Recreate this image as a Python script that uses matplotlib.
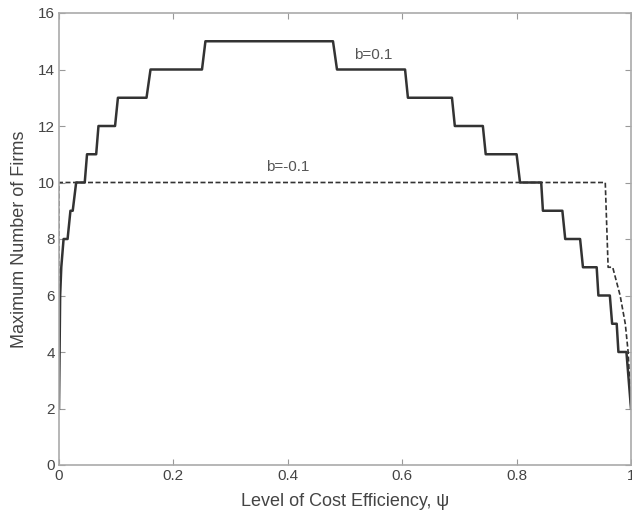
import numpy as np
import matplotlib
matplotlib.use('Agg')
import matplotlib.pyplot as plt

plt.rcParams['font.family'] = ['Liberation Sans', 'DejaVu Sans']

# b = 0.1 (solid step curve), vertices
psi_pos = [0.0, 0.002, 0.004, 0.008, 0.015, 0.020, 0.024, 0.030, 0.045, 0.049,
           0.065, 0.069, 0.098, 0.103, 0.153, 0.160, 0.250, 0.256, 0.479, 0.486,
           0.605, 0.610, 0.687, 0.692, 0.741, 0.746, 0.800, 0.806, 0.843, 0.846,
           0.880, 0.885, 0.911, 0.916, 0.940, 0.943, 0.963, 0.967, 0.975, 0.978,
           0.992, 1.0]
n_pos = [2, 6, 7, 8, 8, 9, 9, 10, 10, 11,
         11, 12, 12, 13, 13, 14, 14, 15, 15, 14,
         14, 13, 13, 12, 12, 11, 11, 10, 10, 9,
         9, 8, 8, 7, 7, 6, 6, 5, 5, 4,
         4, 2]

# b = -0.1 (dashed)
psi_neg = [0.0, 0.0, 0.955, 0.960, 0.968, 0.981, 0.990, 0.995, 1.0]
n_neg = [2, 10, 10, 7, 7, 6, 5, 4, 2]

xticks = [0, 0.2, 0.4, 0.6, 0.8, 1]
xticklabels = ['0', '0.2', '0.4', '0.6', '0.8', '1']
yticks = [0, 2, 4, 6, 8, 10, 12, 14, 16]

fig = plt.figure(figsize=(6.32, 5.13), dpi=100)
ax = fig.add_axes([59 / 632, 48 / 513, 572 / 632, 452 / 513])

line_col = '#333333'
ax.plot(psi_pos, n_pos, color=line_col, lw=1.8)
ax.plot(psi_neg, n_neg, color=line_col, lw=1.2, linestyle=(0, (3, 1.5)))

ax.text(0.55, 14.5, 'b=0.1', fontsize=11, color='#555555', ha='center', va='center')
ax.text(0.40, 10.55, 'b=-0.1', fontsize=11, color='#555555', ha='center', va='center')

ax.set_xlim(0, 1)
ax.set_ylim(0, 16)
ax.set_xticks(xticks)
ax.set_xticklabels(xticklabels)
ax.set_yticks(yticks)

for s in ax.spines.values():
    s.set_color('#aaaaaa')
    s.set_linewidth(1.2)
ax.tick_params(direction='in', top=True, right=True, length=4, width=0.8,
               color='#999999', labelcolor='#444444', labelsize=11, pad=3)

ax.set_xlabel('Level of Cost Efficiency, \u03c8', fontsize=13, color='#444444', labelpad=7)
ax.set_ylabel('Maximum Number of Firms', fontsize=13, color='#444444', labelpad=7)

fig.savefig('out.png', dpi=100)
